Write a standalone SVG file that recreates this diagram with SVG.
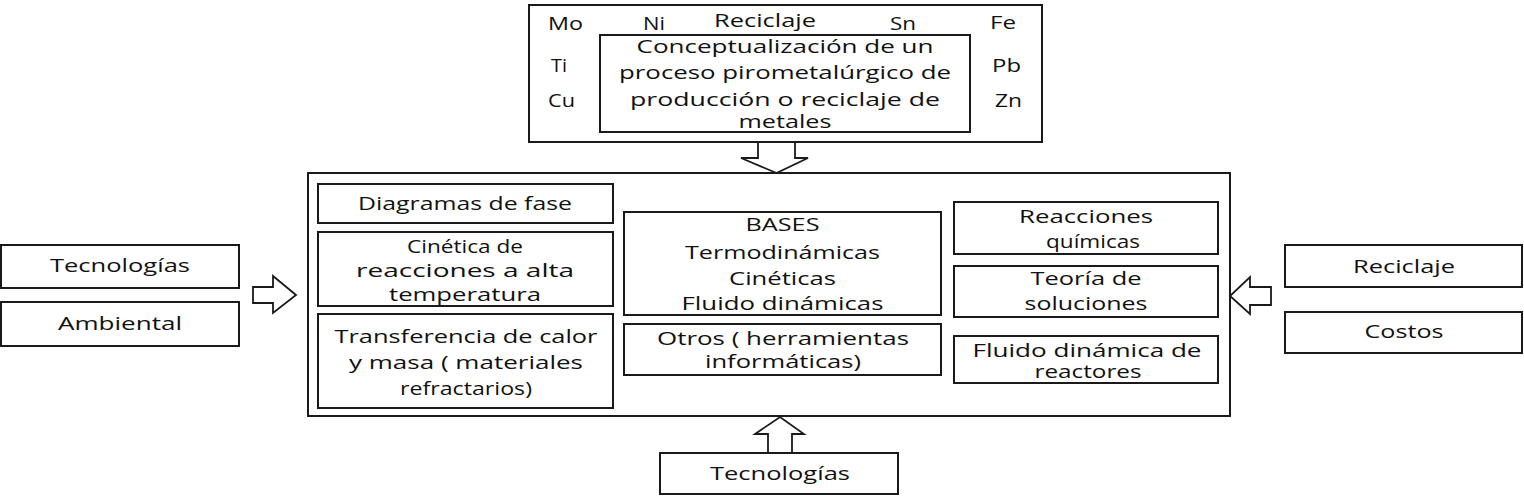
<svg xmlns="http://www.w3.org/2000/svg" width="1524" height="500" viewBox="0 0 1524 500">
<style>
.box{fill:#ffffff;stroke:#1a1a1a;stroke-width:2}
.arr{fill:#ffffff;stroke:#1a1a1a;stroke-width:1.8;stroke-linejoin:miter}
text{font-family:"Open Sans","Liberation Sans",sans-serif;font-size:17.5px;fill:#111111}
.c{text-anchor:middle}
</style>
<rect width="1524" height="500" fill="#ffffff"/>
<g id="process">
<rect class="box" x="529" y="5" width="513" height="137"/>
<text x="548" y="30" textLength="35" lengthAdjust="spacingAndGlyphs">Mo</text>
<text x="643" y="30" textLength="22" lengthAdjust="spacingAndGlyphs">Ni</text>
<text x="714" y="27" textLength="102" lengthAdjust="spacingAndGlyphs">Reciclaje</text>
<text x="890" y="30" textLength="26" lengthAdjust="spacingAndGlyphs">Sn</text>
<text x="990" y="29" textLength="26" lengthAdjust="spacingAndGlyphs">Fe</text>
<text x="551" y="72" textLength="16" lengthAdjust="spacingAndGlyphs">Ti</text>
<text x="548" y="107" textLength="27" lengthAdjust="spacingAndGlyphs">Cu</text>
<text x="992" y="72" textLength="29" lengthAdjust="spacingAndGlyphs">Pb</text>
<text x="995" y="107" textLength="27" lengthAdjust="spacingAndGlyphs">Zn</text>
<rect class="box" x="600" y="35" width="370" height="97"/>
<text class="c" x="785" y="53" textLength="297" lengthAdjust="spacingAndGlyphs">Conceptualización de un</text>
<text class="c" x="785" y="79" textLength="332" lengthAdjust="spacingAndGlyphs">proceso pirometalúrgico de</text>
<text class="c" x="785" y="106" textLength="310" lengthAdjust="spacingAndGlyphs">producción o reciclaje de</text>
<text class="c" x="785" y="128" textLength="93" lengthAdjust="spacingAndGlyphs">metales</text>
</g>
<g id="main">
<rect class="box" x="308" y="173" width="922" height="243"/>
</g>
<g id="diagramas">
<rect class="box" x="318" y="184" width="295" height="39"/>
<text class="c" x="465" y="210" textLength="214" lengthAdjust="spacingAndGlyphs">Diagramas de fase</text>
</g>
<g id="cinetica">
<rect class="box" x="318" y="232" width="295" height="74"/>
<text class="c" x="465" y="253" textLength="116" lengthAdjust="spacingAndGlyphs">Cinética de</text>
<text class="c" x="465" y="277" textLength="218" lengthAdjust="spacingAndGlyphs">reacciones a alta</text>
<text class="c" x="465" y="301" textLength="152" lengthAdjust="spacingAndGlyphs">temperatura</text>
</g>
<g id="transferencia">
<rect class="box" x="318" y="314" width="295" height="94"/>
<text class="c" x="466" y="343" textLength="263" lengthAdjust="spacingAndGlyphs">Transferencia de calor</text>
<text class="c" x="466" y="369" textLength="234" lengthAdjust="spacingAndGlyphs">y masa ( materiales</text>
<text class="c" x="466" y="395" textLength="132" lengthAdjust="spacingAndGlyphs">refractarios)</text>
</g>
<g id="bases">
<rect class="box" x="624" y="212" width="317" height="103"/>
<text class="c" x="782.5" y="231" textLength="74" lengthAdjust="spacingAndGlyphs">BASES</text>
<text class="c" x="782.5" y="259" textLength="195" lengthAdjust="spacingAndGlyphs">Termodinámicas</text>
<text class="c" x="782.5" y="285" textLength="107" lengthAdjust="spacingAndGlyphs">Cinéticas</text>
<text class="c" x="782.5" y="310" textLength="202" lengthAdjust="spacingAndGlyphs">Fluido dinámicas</text>
</g>
<g id="otros">
<rect class="box" x="624" y="324" width="317" height="51"/>
<text class="c" x="783" y="345" textLength="252" lengthAdjust="spacingAndGlyphs">Otros ( herramientas</text>
<text class="c" x="783" y="368" textLength="156" lengthAdjust="spacingAndGlyphs">informáticas)</text>
</g>
<g id="reacciones">
<rect class="box" x="954" y="202" width="264" height="52"/>
<text class="c" x="1086" y="223" textLength="134" lengthAdjust="spacingAndGlyphs">Reacciones</text>
<text class="c" x="1093" y="248" textLength="94" lengthAdjust="spacingAndGlyphs">químicas</text>
</g>
<g id="teoria">
<rect class="box" x="954" y="266" width="264" height="51"/>
<text class="c" x="1086" y="285" textLength="111" lengthAdjust="spacingAndGlyphs">Teoría de</text>
<text class="c" x="1086" y="310" textLength="123" lengthAdjust="spacingAndGlyphs">soluciones</text>
</g>
<g id="fluido">
<rect class="box" x="954" y="336" width="264" height="47"/>
<text class="c" x="1087" y="357" textLength="229" lengthAdjust="spacingAndGlyphs">Fluido dinámica de</text>
<text class="c" x="1088" y="378" textLength="107" lengthAdjust="spacingAndGlyphs">reactores</text>
</g>
<g id="tecnologias-left">
<rect class="box" x="1" y="245" width="238" height="43"/>
<text class="c" x="120" y="272" textLength="140" lengthAdjust="spacingAndGlyphs">Tecnologías</text>
</g>
<g id="ambiental">
<rect class="box" x="1" y="302" width="238" height="44"/>
<text class="c" x="120" y="330" textLength="124" lengthAdjust="spacingAndGlyphs">Ambiental</text>
</g>
<g id="reciclaje">
<rect class="box" x="1285" y="245" width="237" height="42"/>
<text class="c" x="1404" y="273" textLength="102" lengthAdjust="spacingAndGlyphs">Reciclaje</text>
</g>
<g id="costos">
<rect class="box" x="1285" y="312" width="237" height="41"/>
<text class="c" x="1404" y="338" textLength="79" lengthAdjust="spacingAndGlyphs">Costos</text>
</g>
<g id="tecnologias-bottom">
<rect class="box" x="660" y="453" width="238" height="41"/>
<text class="c" x="780" y="480" textLength="140" lengthAdjust="spacingAndGlyphs">Tecnologías</text>
</g>
<g id="connectors">
<polygon class="arr" points="758,142 795,142 795,158 808,158 776.5,173 741,158 758,158"/>
<polygon class="arr" points="253,287 273,287 273,276 296,295 273,313 273,303 253,303"/>
<polygon class="arr" points="1271,287 1250,287 1250,277 1230,296 1250,314 1250,305 1271,305"/>
<polygon class="arr" points="768,453 768,434 755,434 780,417 804,434 792,434 792,453"/>
</g>
</svg>
